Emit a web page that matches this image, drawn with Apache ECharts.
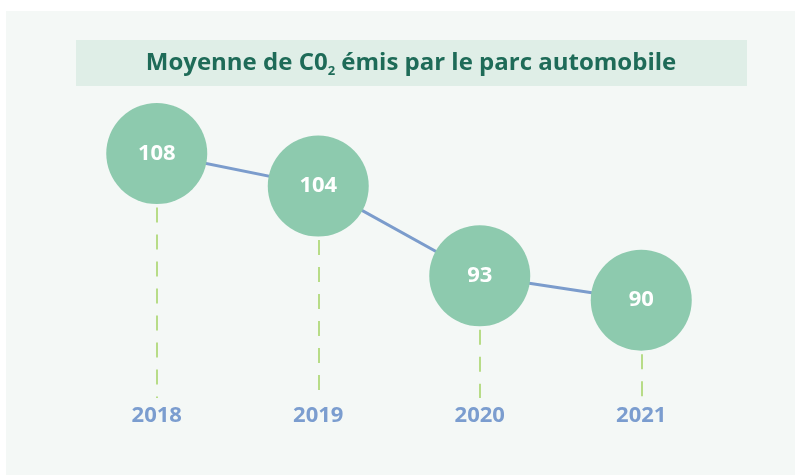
<!DOCTYPE html>
<html>
<head>
<meta charset="UTF-8">
<script src="https://cdn.jsdelivr.net/npm/echarts@6/dist/echarts.min.js"></script>
<style type="text/css">
html, body { margin: 0; padding: 0; background: #ffffff; }
#main { width: 795px; height: 475px; }
</style>
</head>
<body>
	<div id="main"></div>
	<script type="text/javascript">
		// données
		var years = ['2018', '2019', '2020', '2021'];
		var co2 = [108, 104, 93, 90];
		var yMin = 78;
		var yMax = 118;

		var dashLines = [];
		for (var i = 0; i < years.length; i++) {
			dashLines.push([{ coord: [years[i], co2[i]] }, { coord: [years[i], yMin] }]);
		}

		var myChart = echarts.init(document.getElementById('main'));
		var option = {
			backgroundColor: '#ffffff',
			textStyle: { fontFamily: 'Open Sans' },
			graphic: [
				{ type: 'rect', z: -10, shape: { x: 6, y: 11, width: 789, height: 464 }, style: { fill: '#f4f8f6' }, silent: true },
				{ type: 'rect', z: -9, shape: { x: 76, y: 40, width: 671, height: 46 }, style: { fill: '#dfeee7' }, silent: true }
			],
			title: {
				text: '{a|Moyenne de C0}{s|2}{a| émis par le parc automobile}',
				left: 411,
				top: 48,
				textAlign: 'center',
				padding: 0,
				textStyle: {
					rich: {
						a: { fontFamily: 'Open Sans', fontSize: 24, fontWeight: 'bold', color: '#1e6b58', lineHeight: 30 },
						s: { fontFamily: 'Open Sans', fontSize: 13, fontWeight: 'bold', color: '#1e6b58', lineHeight: 12, verticalAlign: 'bottom' }
					}
				}
			},
			grid: { left: 76, right: 73, top: 72, bottom: 77 },
			xAxis: {
				type: 'category',
				data: years,
				axisLine: { show: false },
				axisTick: { show: false },
				splitLine: { show: false },
				axisLabel: { color: '#7b9dcf', fontSize: 22, fontWeight: 'bold', fontFamily: 'Open Sans', margin: 7 }
			},
			yAxis: {
				type: 'value',
				min: yMin,
				max: yMax,
				show: false,
				splitLine: { show: false }
			},
			series: [
				{
					type: 'line',
					data: [],
					z: 1,
					silent: true,
					markLine: {
						silent: true,
						symbol: 'none',
						z: 1,
						label: { show: false },
						lineStyle: { color: '#b7dc87', width: 2, type: [15, 12] },
						data: dashLines
					}
				},
				{
					type: 'line',
					data: co2,
					z: 3,
					symbol: 'circle',
					symbolSize: 101,
					itemStyle: { color: '#8dcaae' },
					lineStyle: { color: '#7b9ccc', width: 3 },
					label: {
						show: true,
						position: 'inside',
						color: '#ffffff',
						fontSize: 22,
						fontWeight: 'bold',
						fontFamily: 'Open Sans'
					},
					emphasis: { disabled: true }
				}
			]
		};
		myChart.setOption(option);
	</script>
</body>
</html>
